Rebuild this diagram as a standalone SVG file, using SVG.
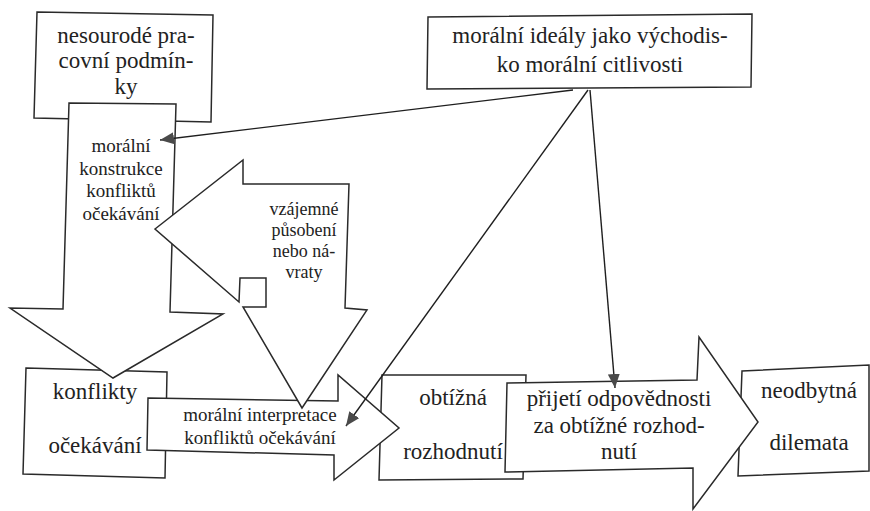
<svg xmlns="http://www.w3.org/2000/svg" width="870" height="511" viewBox="0 0 870 511">
<style>
.shape{fill:#fff;stroke:#2a2a2a;stroke-width:1.5}
.lg{font-family:"Liberation Serif",serif;font-size:23px;fill:#222;text-anchor:middle}
.sm{font-family:"Liberation Serif",serif;font-size:19px;fill:#222;text-anchor:middle}
.xs{font-family:"Liberation Serif",serif;font-size:18px;fill:#222;text-anchor:middle}
.conn{fill:none;stroke:#1e1e1e;stroke-width:1.4}
</style>
<defs>
<marker id="ah" markerUnits="userSpaceOnUse" markerWidth="16" markerHeight="14" refX="14" refY="6" orient="auto">
<path d="M0,0 L14,6 L0,12 Z" fill="#4a4a4a"/>
</marker>
</defs>
<rect width="870" height="511" fill="#fff"/>

<g id="node-nesourode">
<polygon class="shape" points="37,12 213,15 211,122 34,118"/>
<text class="lg" font-family="Liberation Serif" x="126" y="43">nesourodé pra-</text>
<text class="lg" font-family="Liberation Serif" x="126" y="68">covní podmín-</text>
<text class="lg" font-family="Liberation Serif" x="126" y="94">ky</text>
</g>

<g id="node-idealy">
<polygon class="shape" points="428,17 752,14 751,87 427,89"/>
<text class="lg" font-family="Liberation Serif" x="590" y="43">morální ideály jako východis-</text>
<text class="lg" font-family="Liberation Serif" x="590" y="72">ko morální citlivosti</text>
</g>

<g id="node-konflikty">
<polygon class="shape" points="26,368 167,372 165,478 23,474"/>
<text class="lg" font-family="Liberation Serif" x="95" y="399">konflikty</text>
<text class="lg" font-family="Liberation Serif" x="95" y="453">očekávání</text>
</g>

<g id="node-obtizna">
<polygon class="shape" points="382,375 526,375 523,479 379,480"/>
<text class="lg" font-family="Liberation Serif" x="453" y="405">obtížná</text>
<text class="lg" font-family="Liberation Serif" x="453" y="459">rozhodnutí</text>
</g>

<g id="node-neodbytna">
<polygon class="shape" points="742,371 869,365 869,471 738,476"/>
<text class="lg" font-family="Liberation Serif" x="809" y="398">neodbytná</text>
<text class="lg" font-family="Liberation Serif" x="809" y="450">dilemata</text>
</g>

<g id="node-konstrukce">
<polygon class="shape" points="69,103 176,104 170,312 223,314 113,378 10,308 63,309"/>
<text class="sm" font-family="Liberation Serif" x="121" y="152">morální</text>
<text class="sm" font-family="Liberation Serif" x="121" y="175">konstrukce</text>
<text class="sm" font-family="Liberation Serif" x="121" y="197">konfliktů</text>
<text class="sm" font-family="Liberation Serif" x="121" y="220">očekávání</text>
</g>

<g id="node-interpretace">
<polygon class="shape" points="148,398 338,401 338,375 399,428 334,480 334,455 147,450"/>
<text class="sm" font-family="Liberation Serif" x="260" y="421">morální interpretace</text>
<text class="sm" font-family="Liberation Serif" x="260" y="444">konfliktů očekávání</text>
</g>

<g id="node-prijeti">
<polygon class="shape" points="507,383 697,380 699,337 758,422 693,509 693,468 505,472"/>
<text class="lg" font-family="Liberation Serif" x="619" y="406">přijetí odpovědnosti</text>
<text class="lg" font-family="Liberation Serif" x="619" y="433">za obtížné rozhod-</text>
<text class="lg" font-family="Liberation Serif" x="619" y="459">nutí</text>
</g>

<g id="node-vzajemne">
<polygon class="shape" points="155,229 243,160 243,184 349,184 345,308 367,310 302,408 243,307 266,307 266,278 240,278 239,302"/>
<text class="xs" font-family="Liberation Serif" x="304" y="215">vzájemné</text>
<text class="xs" font-family="Liberation Serif" x="304" y="236">působení</text>
<text class="xs" font-family="Liberation Serif" x="304" y="257">nebo ná-</text>
<text class="xs" font-family="Liberation Serif" x="304" y="278">vraty</text>
</g>

<g id="connectors">
<line class="conn" x1="573" y1="90" x2="160" y2="140" marker-end="url(#ah)"/>
<line class="conn" x1="588" y1="90" x2="346" y2="426" marker-end="url(#ah)"/>
<line class="conn" x1="590" y1="90" x2="615" y2="388" marker-end="url(#ah)"/>
</g>
</svg>
